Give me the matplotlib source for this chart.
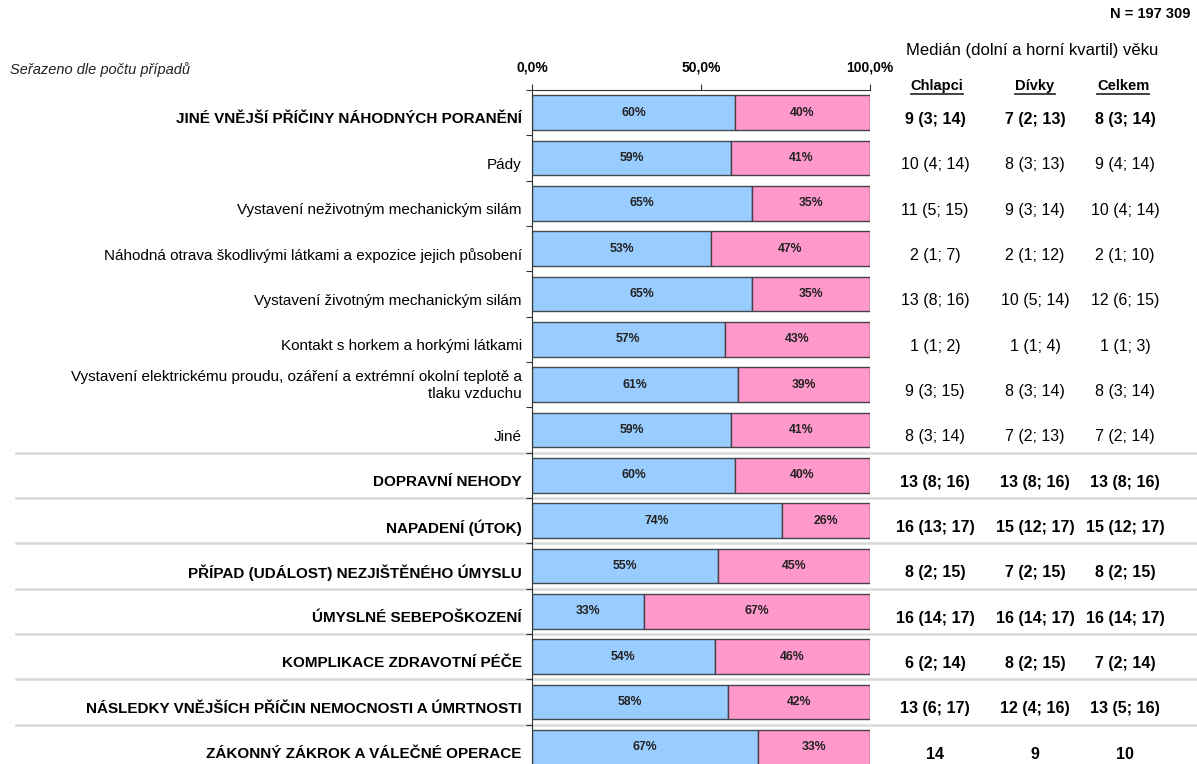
import numpy as np
import matplotlib
matplotlib.use("Agg")
import matplotlib.pyplot as plt
from matplotlib.lines import Line2D

plt.rcParams['font.family'] = ['Liberation Sans', 'DejaVu Sans']

# Data
categories = [
    "JINÉ VNĚJŠÍ PŘÍČINY NÁHODNÝCH PORANĚNÍ",
    "Pády",
    "Vystavení neživotným mechanickým silám",
    "Náhodná otrava škodlivými látkami a expozice jejich působení",
    "Vystavení životným mechanickým silám",
    "Kontakt s horkem a horkými látkami",
    "Vystavení elektrickému proudu, ozáření a extrémní okolní teplotě a\ntlaku vzduchu",
    "Jiné",
    "DOPRAVNÍ NEHODY",
    "NAPADENÍ (ÚTOK)",
    "PŘÍPAD (UDÁLOST) NEZJIŠTĚNÉHO ÚMYSLU",
    "ÚMYSLNÉ SEBEPOŠKOZENÍ",
    "KOMPLIKACE ZDRAVOTNÍ PÉČE",
    "NÁSLEDKY VNĚJŠÍCH PŘÍČIN NEMOCNOSTI A ÚMRTNOSTI",
    "ZÁKONNÝ ZÁKROK A VÁLEČNÉ OPERACE",
]
is_main = [True, False, False, False, False, False, False, False,
           True, True, True, True, True, True, True]

boys_pct = [60, 59, 65, 53, 65, 57, 61, 59, 60, 74, 55, 33, 54, 58, 67]
girls_pct = [40, 41, 35, 47, 35, 43, 39, 41, 40, 26, 45, 67, 46, 42, 33]

median_boys = ["9 (3; 14)", "10 (4; 14)", "11 (5; 15)", "2 (1; 7)", "13 (8; 16)",
               "1 (1; 2)", "9 (3; 15)", "8 (3; 14)", "13 (8; 16)", "16 (13; 17)",
               "8 (2; 15)", "16 (14; 17)", "6 (2; 14)", "13 (6; 17)", "14"]
median_girls = ["7 (2; 13)", "8 (3; 13)", "9 (3; 14)", "2 (1; 12)", "10 (5; 14)",
                "1 (1; 4)", "8 (3; 14)", "7 (2; 13)", "13 (8; 16)", "15 (12; 17)",
                "7 (2; 15)", "16 (14; 17)", "8 (2; 15)", "12 (4; 16)", "9"]
median_total = ["8 (3; 14)", "9 (4; 14)", "10 (4; 14)", "2 (1; 10)", "12 (6; 15)",
                "1 (1; 3)", "8 (3; 14)", "7 (2; 14)", "13 (8; 16)", "15 (12; 17)",
                "8 (2; 15)", "16 (14; 17)", "7 (2; 14)", "13 (5; 16)", "10"]

col_headers = ["Chlapci", "Dívky", "Celkem"]
xticks = [0, 50, 100]
xticklabels = ["0,0%", "50,0%", "100,0%"]

# Figure
W, H = 1197, 764
fig = plt.figure(figsize=(W / 100, H / 100), dpi=100)
fig.patch.set_facecolor('white')

ax_top, ax_bot = 90, 770
ax = fig.add_axes([532 / W, (H - ax_bot) / H, 338 / W, (ax_bot - ax_top) / H])
ax.set_facecolor('none')

n = len(categories)
y = np.arange(n)
boys = np.array(boys_pct) / 100
girls = np.array(girls_pct) / 100

blue = '#99CCFF'
pink = '#FF99CC'
ax.barh(y, boys, height=0.77, color=blue, edgecolor='#3f4a55', linewidth=1)
ax.barh(y, girls, left=boys, height=0.77, color=pink, edgecolor='#4a3f45', linewidth=1)

for i in range(n):
    ax.text(boys[i] / 2, i, f"{boys_pct[i]}%", ha='center', va='center',
            fontsize=8.8, fontweight='bold', color='#222222')
    ax.text(boys[i] + girls[i] / 2, i, f"{girls_pct[i]}%", ha='center', va='center',
            fontsize=8.8, fontweight='bold', color='#222222')

ax.set_xlim(0, 1)
ax.set_ylim(n - 0.5, -0.5)

# top axis
ax.xaxis.tick_top()
ax.set_xticks(np.array(xticks) / 100)
ax.set_xticklabels(xticklabels, fontsize=10, fontweight='bold')
ax.tick_params(axis='x', direction='out', length=4, pad=7, color='#333333')
ax.set_yticks(np.arange(n + 1) - 0.5)
ax.set_yticklabels([])
ax.tick_params(axis='y', direction='out', length=4, color='#333333')
for s in ['right', 'bottom']:
    ax.spines[s].set_visible(False)
ax.spines['top'].set_color('#333333')
ax.spines['left'].set_color('#333333')

# category labels
for i, lab in enumerate(categories):
    off = 0.02 if '\n' in lab else 0.15
    ax.text(-0.03, i + off, lab, ha='right', va='center', fontsize=11,
            fontweight='bold' if is_main[i] else 'normal', linespacing=1.2)

# median table
col_x = [935, 1035, 1125]
for i in range(n):
    yy = i + 0.15
    for cx, vals in zip(col_x, [median_boys, median_girls, median_total]):
        xa = (cx - 532) / 338
        ax.text(xa, yy, vals[i], ha='center', va='center', fontsize=11.5,
                fontweight='bold' if is_main[i] else 'normal', clip_on=False)

# separator lines
for b in range(8, n):
    yb = b - 0.5
    yfig = ax.transData.transform((0, yb))[1] / H
    fig.add_artist(Line2D([16 / W, 1.0], [yfig, yfig], color='#d9d9d9', linewidth=1.8, zorder=0))

# header texts
fig.text(10 / W, 1 - 70 / H, "Seřazeno dle počtu případů", ha='left', va='center',
         fontsize=10.5, style='italic', color='#222222')
fig.text(1190 / W, 1 - 14 / H, "N = 197 309", ha='right', va='center',
         fontsize=10.5, fontweight='bold')
fig.text(1032 / W, 1 - 51 / H, "Medián (dolní a horní kvartil) věku", ha='center', va='center',
         fontsize=12)

renderer = fig.canvas.get_renderer()
for cx, h in zip([937, 1035, 1123], col_headers):
    t = fig.text(cx / W, 1 - 86 / H, h, ha='center', va='center', fontsize=10.5, fontweight='bold')
    bb = t.get_window_extent(renderer=renderer)
    uy = (bb.y0 - 1) / H
    fig.add_artist(Line2D([bb.x0 / W, bb.x1 / W], [uy, uy], color='#333333', linewidth=1.3))

fig.savefig("out.png", dpi=100, facecolor='white')
